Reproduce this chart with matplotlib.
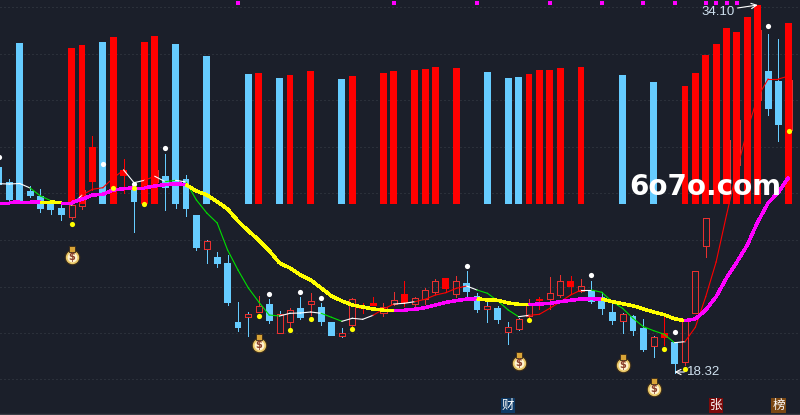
import matplotlib
matplotlib.use("Agg")
import matplotlib.pyplot as plt
from matplotlib.patches import Rectangle

BG = "#1b1f2a"
GRID = "#3c414b"
RED = "#ff0000"
HOLLOW = "#e8302f"
BLUE = "#66ccff"
MAG = "#ff00ff"
YEL = "#ffff00"
GREEN = "#00e000"

# candle index starts at -1 (partly cut off at the left edge)
first_index = -1
body_top = [167,182,183,191,196,203,208,205,190,147,176,172,170,190,178,170,176,178,179,215,241,257,263,322,314,306,304,314,310,308,301,307,322,333,299,307,303,307,300,294,298,290,281,278,281,283,296,306,308,327,319,305,299,293,281,281,286,291,297,312,314,316,328,337,333,342,319,271,218,166,140,120,80,30,71,81,80]
body_bot = [185,200,196,196,209,210,215,217,206,182,190,182,176,202,190,182,188,192,209,248,249,264,303,328,317,312,321,333,322,318,304,322,336,336,325,309,306,313,304,303,304,299,292,289,294,292,310,309,320,332,329,316,301,299,295,287,291,302,309,321,321,331,350,346,338,364,362,313,246,200,190,165,140,100,109,125,130]
wick_hi = [167,179,183,186,189,202,205,203,185,136,170,168,159,188,172,165,154,172,175,215,240,252,255,302,312,296,299,311,308,297,293,303,322,328,298,303,297,303,292,281,297,288,279,278,276,271,293,300,306,322,318,299,297,277,275,276,279,281,292,304,313,315,319,336,317,342,319,271,218,160,130,110,70,20,34,39,70]
wick_lo = [185,201,196,197,212,214,220,219,209,190,194,186,193,232,194,186,210,208,216,250,263,267,305,331,336,312,323,333,327,319,315,325,336,337,326,313,306,316,305,306,309,304,294,292,297,297,312,322,323,344,330,317,309,309,297,293,292,303,314,324,333,335,351,357,345,373,365,313,257,203,200,175,150,110,115,141,140]
# r filled red, h hollow red, b blue, x hollow red box on a blue wick
candle_style = ("bbbbbbb" "hh" "r" "b" "rr" "b" "hh" "bbbb" "x" "bbb" "x" "h" "b" "x" "h" "b" "h" "bb" "x" "h" "rr" "hh" "r" "hhh" "r" "h" "bb" "x" "b" "xx" "h" "r" "hh" "r" "h" "bbb" "x" "bb" "x" "r" "b" "hhhhhhhh" "bb" "h")
volume = [0,0,161,0,0,0,0,156,159,0,162,167,0,0,162,168,0,160,0,0,148,0,0,0,130,131,0,126,129,0,133,0,0,125,128,0,0,131,133,0,134,135,137,0,136,0,0,132,0,126,127,130,134,134,136,0,137,0,0,0,129,0,0,122,0,0,118,131,149,160,176,172,187,199,0,0,181]

thin_ma = [183.7,184,183.5,188,196,200.7,202.7,205,195,189.3,187.7,178,170,182.7,180.3,176.3,181.7,180.3,182,200,213,223,250,270,288,302,315,316,313.3,313,312,313.3,317.3,321.3,318.3,319.3,315.3,309,304,303.3,301.7,299.3,295,292.7,288.3,286,290,293.3,301,310,316.7,315.3,314.3,308.3,301.7,295,290,290,292.3,301.7,308.3,318.3,326.7,330.7,334.3,342.7,341.7,327.3,296.7,262,215,170,130,97,79,79,76]
thin_colors = "www" "gggg" "w" "rrrr" "w" "w" "r" "w" "g" "w" "ggggggggg" "wwww" "gg" "www" "rr" "ww" "rrrrr" "w" "gggg" "w" "rrrrr" "w" "gggggggg" "w" "rrrrrrrrrr"

thick_ma = [202.7,202.7,201.7,201.7,202,202,202.7,202.7,199.3,195,194.3,190,188.7,187.7,187.7,186,184.7,183.7,184.7,191,195,201.7,209,221,231,240,250.7,263,268,275,280,288,296,301,305,307,309,310,310,310,309.3,307.7,305,302.3,300.7,299,298.7,300,300.3,303,304.3,304.7,304,303.3,301.7,300.3,299,298.7,299,301.7,303.7,305.7,309,312,314.7,318.7,320.7,319,310,296.7,278,262,245,222,203,192,177]
thick_yellow = [3,4] + list(range(17,37)) + list(range(45,50)) + list(range(57,65))

white_dot_i = [-1,9,12,15,25,28,30,44,56,64,73]
white_dot_y = [157,164,184,148,294,292,298,266,275,332,26]
yellow_dot_i = [6,10,12,13,24,27,29,33,50,63,65,75]
yellow_dot_y = [224,188,188,204,316,330,319,329,320,349,369,131]
top_mark_i = [22,37,45,52,57,61,64,67,68,69,70]
money_i = [6,24,49,59,62]
money_y = [255,343,361,363,387]
grid_y = [7.3,54.3,100,147,193.3,240,286.5,333.3,379.3]
badges = [(48,"财","#0e3a66"),(68,"张","#7d0a0a"),(74,"榜","#7a4712")]

fig = plt.figure(figsize=(8,4.15),dpi=100,facecolor=BG)
ax = fig.add_axes([0,0,1,1],facecolor=BG)
ax.set_xlim(-0.895,76.07)
ax.set_ylim(415,0)
ax.axis("off")

for g in grid_y:
    ax.axhline(g,color=GRID,lw=0.72,ls=(0,(1,3)),zorder=1)
ax.axhline(413.5,color="#3a3d45",lw=1,zorder=1)

n = len(body_top)
xs = [first_index+k for k in range(n)]
W = 0.66
for k in range(n):
    x,s = xs[k],candle_style[k]
    t,b,h,l = body_top[k],body_bot[k],wick_hi[k],wick_lo[k]
    wc = BLUE if s in "bx" else (RED if s=="r" else HOLLOW)
    ax.plot([x,x],[h,t],color=wc,lw=0.72,zorder=2,antialiased=False)
    ax.plot([x,x],[b,l],color=wc,lw=0.72,zorder=2,antialiased=False)
    if s in "rb":
        ax.add_patch(Rectangle((x-W/2,t),W,b-t,fc=RED if s=="r" else BLUE,ec="none",zorder=3))
    else:
        ax.add_patch(Rectangle((x-W/2+0.04,t),W-0.08,b-t,fc="none",ec=HOLLOW,lw=0.72,zorder=3,antialiased=False))

VOL_BASE = 204
for k in range(n):
    if volume[k]:
        c = BLUE if candle_style[k] in "bx" else RED
        ax.bar(xs[k],-volume[k],W,bottom=VOL_BASE,color=c,zorder=4)

cm = {"w":"#ffffff","g":GREEN,"r":RED}
for k in range(n-1):
    ax.plot(xs[k:k+2],thin_ma[k:k+2],color=cm[thin_colors[k]],lw=0.8,zorder=5)
for k in range(n-1):
    c = YEL if xs[k] in thick_yellow else MAG
    ax.plot(xs[k:k+2],thick_ma[k:k+2],color=c,lw=1.8,zorder=6,solid_capstyle="butt",antialiased=False)

ax.scatter(white_dot_i,white_dot_y,s=14,c="white",lw=0,zorder=7)
ax.scatter(yellow_dot_i,yellow_dot_y,s=14,c=YEL,lw=0,zorder=7)
ax.scatter(top_mark_i,[3.5]*len(top_mark_i),s=8,c=MAG,marker="s",lw=0,zorder=7)

for mx,my in zip(money_i,money_y):
    ax.scatter(mx,my+1.5,s=110,c="#e9c766",edgecolors="#3a2a18",linewidths=0.8,zorder=7)
    ax.scatter(mx,my+1.5,s=50,c="#fff3cf",lw=0,zorder=7)
    ax.scatter(mx,my-6.5,s=22,c="#d9a437",edgecolors="#3a2a18",linewidths=0.6,marker="s",zorder=7)
    ax.text(mx,my+2,"$",color="#8a3e2a",fontsize=7,fontweight="bold",ha="center",va="center",zorder=8,family="DejaVu Sans")

ax.annotate("18.32",xy=(64,372),xytext=(65.2,372),color="#cfe0ee",fontsize=9.5,family="Liberation Sans",
            va="center",ha="left",zorder=8,
            arrowprops=dict(arrowstyle="->",color="white",lw=0.8,shrinkA=0,shrinkB=0))
ax.annotate("34.10",xy=(72,5),xytext=(69.8,12),color="#cfe0ee",fontsize=9.5,family="Liberation Sans",
            va="center",ha="right",zorder=8,
            arrowprops=dict(arrowstyle="->",color="white",lw=0.8,shrinkA=0,shrinkB=0,relpos=(1,0.8)))

for bx,label,col in badges:
    ax.text(bx,405.5,label,color="white",fontsize=9,family="Noto Sans CJK SC",ha="center",va="center",
            zorder=8,bbox=dict(boxstyle="square,pad=0.08",fc=col,ec="none"))

fig.text(705/800,1-195/415,"6o7o.com",color="white",fontsize=20,fontweight="bold",
         family="DejaVu Sans",ha="center",va="baseline",zorder=20)

fig.savefig("out.png",dpi=100,facecolor=BG)
